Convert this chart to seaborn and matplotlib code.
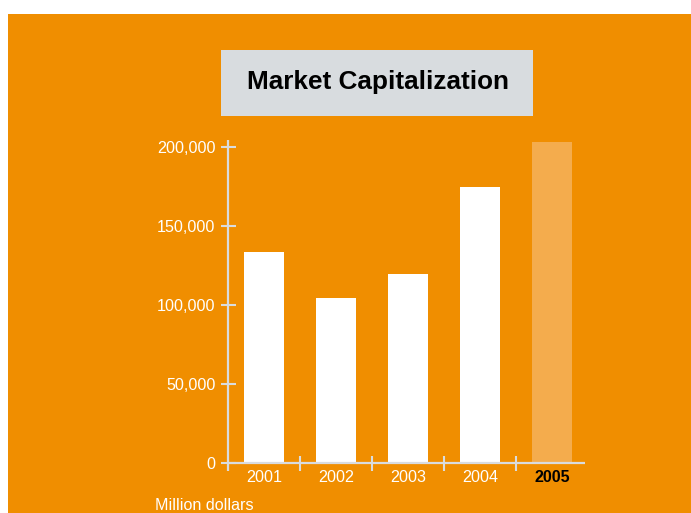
import matplotlib
matplotlib.use("Agg")
import matplotlib.pyplot as plt
import seaborn as sns
import pandas as pd
from matplotlib.patches import Rectangle

# ---- data ----
years = ["2001", "2002", "2003", "2004", "2005"]
market_cap = [133500, 104400, 119600, 174600, 203000]
ytick_values = [0, 50000, 100000, 150000, 200000]
ytick_labels = ["0", "50,000", "100,000", "150,000", "200,000"]
title_text = "Market Capitalization"
unit_text = "Million dollars"

# ---- style ----
ORANGE = "#F08E00"
LIGHT_BAR = "#F4AC4D"
BOX = "#D8DCDF"
AXIS = "#D9DCDF"
FONT = "Liberation Sans"

sns.set_theme(style="white")
plt.rcParams["font.family"] = [FONT, "DejaVu Sans"]

W, H = 691, 513
fig = plt.figure(figsize=(W / 100, H / 100), dpi=100)
fig.patch.set_facecolor("white")

def fx(px):
    return px / W

def fy(py):
    return 1 - py / H

# orange background
fig.patches.append(Rectangle((fx(8), 0), 1 - fx(8), fy(14), transform=fig.transFigure,
                             facecolor=ORANGE, edgecolor="none", zorder=0))
# title box
fig.patches.append(Rectangle((fx(221), fy(115.7)), fx(532.7) - fx(221), fy(50) - fy(115.7),
                             transform=fig.transFigure, facecolor=BOX, edgecolor="none", zorder=1))
fig.text(fx(378), fy(89.5), title_text, ha="center", va="baseline", fontsize=18.8,
         fontweight="bold", color="black", family=[FONT, "DejaVu Sans"], zorder=3)

# axes
px_per_unit = (463.3 - 146.7) / 200000
ytop = 205000
ax_top_px = 463.3 - ytop * px_per_unit
ax = fig.add_axes([fx(228), fy(463.3), fx(585) - fx(228), fy(ax_top_px) - fy(463.3)])
ax.set_zorder(5)
ax.set_facecolor("none")
ax.patch.set_alpha(0)

df = pd.DataFrame({"year": years, "value": market_cap})
colors = ["white", "white", "white", "white", LIGHT_BAR]
sns.barplot(data=df, x="year", y="value", hue="year", palette=colors, legend=False,
            width=0.556, saturation=1, linewidth=0, ax=ax)

ax.set_xlim(-0.5, 4.458)
ax.set_ylim(0, ytop)
for s in ax.spines.values():
    s.set_visible(False)
ax.set_xlabel("")
ax.set_ylabel("")

# y axis ticks (cross style)
ax.set_yticks(ytick_values)
ax.set_yticklabels(ytick_labels)
ax.tick_params(axis="y", direction="inout", length=10.8, width=1.5, color=AXIS,
               labelcolor="white", labelsize=11.6, pad=3.7, left=True)

# x axis: labels at centers, ticks between categories
ax.set_xticks(range(len(years)))
ax.set_xticklabels(years)
ax.tick_params(axis="x", which="major", length=0, labelcolor="white", labelsize=11.6, pad=5)
ax.set_xticks([0.5, 1.5, 2.5, 3.5], minor=True)
ax.tick_params(axis="x", which="minor", direction="inout", length=10.8, width=1.5,
               color=AXIS, bottom=True)
last = ax.get_xticklabels()[-1]
last.set_color("black")
last.set_fontweight("bold")

# axis lines
ext = 8 / px_per_unit
ax.plot([-0.5, -0.5], [-ext, 204500], color=AXIS, lw=1.6, clip_on=False, zorder=5,
        solid_capstyle="butt")
ax.plot([-0.5, 4.458], [0, 0], color=AXIS, lw=1.6, clip_on=False, zorder=5,
        solid_capstyle="butt")

fig.text(fx(155), fy(509.5), unit_text, ha="left", va="baseline", fontsize=11.6,
         color="white", family=[FONT, "DejaVu Sans"], zorder=3)

fig.savefig("out.png", dpi=100, facecolor=fig.get_facecolor())
